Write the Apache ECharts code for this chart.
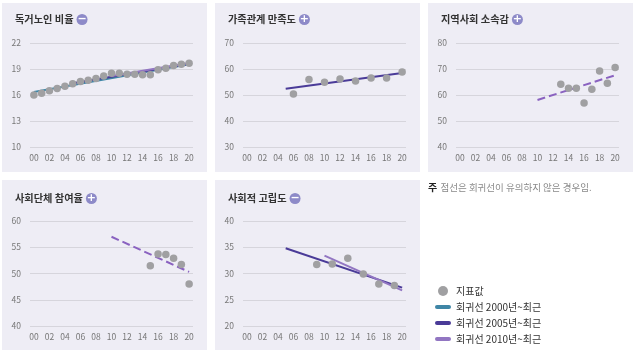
<!DOCTYPE html>
<html lang="ko">
<head>
	<meta charset="UTF-8">
	<title>사회적 관계 지표</title>
	<style>
		* {
			margin: 0;
			padding: 0;
		}

		#box {
			width: 636px;
			height: 352px;
			background: #fff;
		}
	</style>
	<script src="https://cdn.jsdelivr.net/npm/echarts@6/dist/echarts.min.js"></script>
</head>
<body>
<div id="box"></div>
</body>
<script>
	// 연도 (2000~2020)
	const years = ['00', '01', '02', '03', '04', '05', '06', '07', '08', '09', '10',
		'11', '12', '13', '14', '15', '16', '17', '18', '19', '20'];

	// 지표값
	const aloneRate = [16.0, 16.2, 16.5, 16.75, 17.0, 17.3, 17.55, 17.7, 17.9, 18.2, 18.5,
		18.5, 18.4, 18.4, 18.35, 18.35, 18.9, 19.1, 19.4, 19.55, 19.65];
	const familySat = [null, null, null, null, null, null, 50.4, null, 56.0, null, 54.9,
		null, 56.2, null, 55.4, null, 56.5, null, 56.5, null, 58.8];
	const belonging = [null, null, null, null, null, null, null, null, null, null, null,
		null, null, 64.1, 62.6, 62.6, 56.9, 62.2, 69.2, 64.5, 70.6];
	const groupJoin = [null, null, null, null, null, null, null, null, null, null, null,
		null, null, null, null, 51.5, 53.7, 53.6, 52.9, 51.7, 48.0];
	const isolation = [null, null, null, null, null, null, null, null, null, 31.7, null,
		31.8, null, 32.9, null, 29.9, null, 28.0, null, 27.7, null];

	// 회귀선 (시작/끝 값)
	const aloneReg2000 = [['00', 16.35], ['20', 19.55]];
	const aloneReg2005 = [['05', 17.35], ['20', 19.6]];
	const aloneReg2010 = [['10', 18.2], ['20', 19.7]];
	const familyReg2005 = [['05', 52.4], ['20', 58.5]];
	const belongReg2010 = [['10', 58.1], ['20', 67.6]];
	const groupReg2010 = [['10', 57.0], ['20', 50.3]];
	const isoReg2005 = [['05', 34.8], ['20', 27.3]];
	const isoReg2010 = [['10', 33.4], ['20', 26.8]];

	const FONT = '"Noto Sans CJK KR", "Noto Sans", sans-serif';
	const C2000 = '#3f86a6', C2005 = '#4a3b98', C2010 = '#9276c2';
	const N2000 = '회귀선 2000년~최근', N2005 = '회귀선 2005년~최근', N2010 = '회귀선 2010년~최근';

	const panels = [
		{x: 2, y: 3, h: 169, gy: 43, gh: 104, ty: 17, title: '독거노인 비율', sign: '−',
			min: 10, max: 22, step: 3, values: aloneRate,
			lines: [[N2000, aloneReg2000, C2000, 'solid'], [N2005, aloneReg2005, C2005, 'solid'], [N2010, aloneReg2010, C2010, 'solid']]},
		{x: 215, y: 3, h: 169, gy: 43, gh: 104, ty: 17, title: '가족관계 만족도', sign: '+',
			min: 30, max: 70, step: 10, values: familySat,
			lines: [[N2005, familyReg2005, C2005, 'solid']]},
		{x: 428, y: 3, h: 169, gy: 43, gh: 104, ty: 17, title: '지역사회 소속감', sign: '+',
			min: 40, max: 80, step: 10, values: belonging,
			lines: [[N2010, belongReg2010, '#8a62c0', 'dashed']]},
		{x: 2, y: 180, h: 170, gy: 221, gh: 105, ty: 196, title: '사회단체 참여율', sign: '+',
			min: 40, max: 60, step: 5, values: groupJoin,
			lines: [[N2010, groupReg2010, '#8a62c0', 'dashed']]},
		{x: 215, y: 180, h: 170, gy: 221, gh: 105, ty: 196, title: '사회적 고립도', sign: '−',
			min: 20, max: 40, step: 5, values: isolation,
			lines: [[N2005, isoReg2005, C2005, 'solid'], [N2010, isoReg2010, C2010, 'solid']]}
	];

	const myEcharts = echarts.init(document.getElementById('box'));

	const series = [];
	panels.forEach(function (p, i) {
		p.lines.forEach(function (l) {
			series.push({
				name: l[0],
				type: 'line',
				xAxisIndex: i,
				yAxisIndex: i,
				data: l[1],
				symbol: 'none',
				silent: true,
				color: l[2],
				itemStyle: {color: l[2]},
				lineStyle: {color: l[2], width: 2, type: l[3]},
				z: 2
			});
		});
		series.push({
			name: '지표값',
			type: 'scatter',
			xAxisIndex: i,
			yAxisIndex: i,
			data: p.values,
			symbolSize: 7.5,
			itemStyle: {color: '#a0a0a2', opacity: 1},
			z: 3
		});
	});

	const pill = 'path://M2,0 L14,0 A2,2 0 0 1 14,4 L2,4 A2,2 0 0 1 2,0 Z';

	myEcharts.setOption({
		animation: false,
		textStyle: {fontFamily: FONT},
		title: panels.map(function (p) {
			return {
				left: p.x + 8,
				top: p.ty - 8,
				text: '{t|' + p.title + '}{m|' + p.sign + '}',
				textStyle: {
					rich: {
						t: {fontSize: 10.2, color: '#333', fontFamily: FONT, padding: [0, 3, 0, 0]},
						m: {
							width: 11, height: 11, lineHeight: 11, borderRadius: 6, align: 'center',
							backgroundColor: '#8d8ac8', color: '#fff', fontSize: 11, fontWeight: 'bold',
							fontFamily: 'DejaVu Sans'
						}
					}
				}
			};
		}),
		grid: panels.map(function (p) {
			return {left: p.x + 28, top: p.gy, width: 163, height: p.gh};
		}),
		xAxis: panels.map(function (p, i) {
			return {
				type: 'category',
				gridIndex: i,
				data: years,
				boundaryGap: true,
				axisLine: {show: false},
				axisTick: {show: false},
				axisLabel: {interval: 1, color: '#777', fontSize: 8.5, margin: 7, fontFamily: FONT}
			};
		}),
		yAxis: panels.map(function (p, i) {
			return {
				type: 'value',
				gridIndex: i,
				min: p.min,
				max: p.max,
				interval: p.step,
				axisLine: {show: false},
				axisTick: {show: false},
				axisLabel: {color: '#777', fontSize: 8.5, margin: 9, fontFamily: FONT},
				splitLine: {lineStyle: {color: '#d6d5dc', width: 1}}
			};
		}),
		legend: {
			orient: 'vertical',
			left: 430,
			top: 281,
			itemWidth: 16,
			itemHeight: 10,
			itemGap: 6,
			selectedMode: false,
			textStyle: {fontSize: 10, color: '#333', fontFamily: FONT},
			data: [
				{name: '지표값', icon: 'circle'},
				{name: N2000, icon: pill},
				{name: N2005, icon: pill},
				{name: N2010, icon: pill}
			]
		},
		graphic: panels.map(function (p) {
			return {
				type: 'rect',
				z: -10,
				shape: {x: p.x, y: p.y, width: 205, height: p.h},
				style: {fill: '#eeedf5'}
			};
		}).concat([{
			type: 'text',
			left: 428,
			top: 181,
			style: {
				text: '{b|주} {g|점선은 회귀선이 유의하지 않은 경우임.}',
				rich: {
					b: {fontSize: 10, fontWeight: 'bold', fill: '#222', fontFamily: FONT},
					g: {fontSize: 9.5, fill: '#8a8a8a', fontFamily: FONT}
				}
			}
		}]),
		series: series
	});
</script>
</html>
